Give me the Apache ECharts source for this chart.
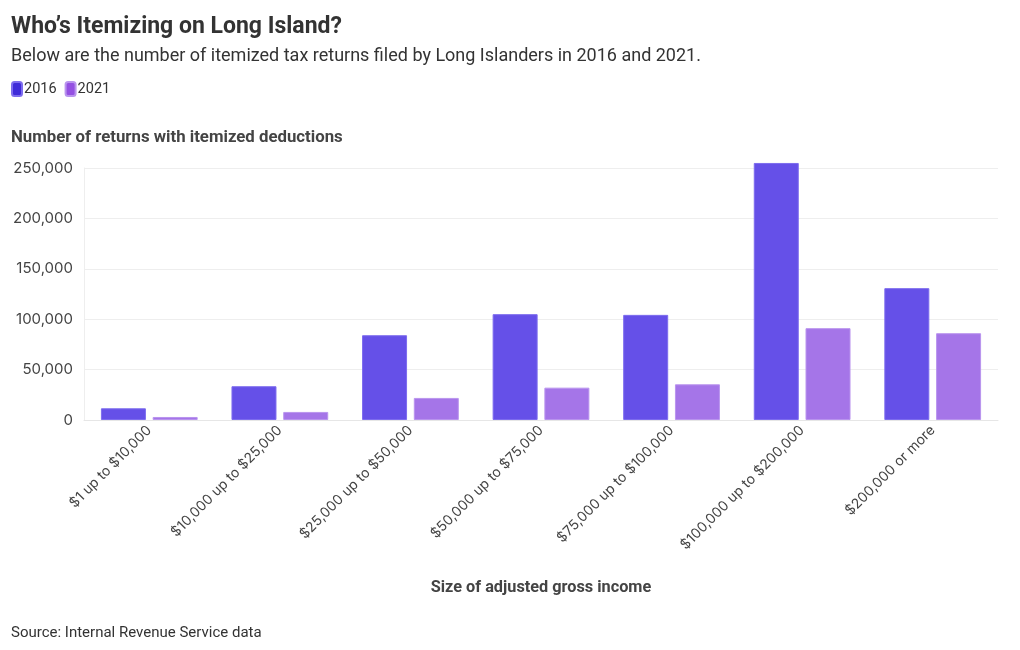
<!DOCTYPE html>
<html>
<head>
<meta charset="utf-8">
<script src="https://cdn.jsdelivr.net/npm/echarts@6/dist/echarts.min.js"></script>
<style>
html,body{margin:0;padding:0;background:#fff;}
#chart{width:1020px;height:650px;}
</style>
</head>
<body>
<div id="chart"></div>
<script>
const categories = ["$1 up to $10,000","$10,000 up to $25,000","$25,000 up to $50,000","$50,000 up to $75,000","$75,000 up to $100,000","$100,000 up to $200,000","$200,000 or more"];
const values2016 = [11600, 33500, 84100, 105000, 104300, 255000, 130800];
const values2021 = [3000, 8000, 21900, 32100, 35400, 91100, 86100];
const yTicks = [0, 50000, 100000, 150000, 200000, 250000];

const FONT = "Inter, 'Open Sans', sans-serif";
const TFONT = "Roboto, 'Noto Sans', sans-serif";

const chart = echarts.init(document.getElementById('chart'));
chart.setOption({
  animation: false,
  backgroundColor: '#ffffff',
  title: [
    {text: 'Who’s Itemizing on Long Island?', left: 6, top: 11,
     textStyle: {fontFamily: TFONT, fontSize: 23, fontWeight: 'bold', color: '#333'}},
    {text: 'Below are the number of itemized tax returns filed by Long Islanders in 2016 and 2021.', left: 6, top: 42,
     textStyle: {fontFamily: TFONT, fontSize: 18, fontWeight: 'normal', color: '#333'}},
    {text: 'Number of returns with itemized deductions', left: 6, top: 124,
     textStyle: {fontFamily: TFONT, fontSize: 16.8, fontWeight: 'bold', color: '#444'}},
    {text: 'Source: Internal Revenue Service data', left: 6, top: 621,
     textStyle: {fontFamily: TFONT, fontSize: 15, fontWeight: 'normal', color: '#333'}}
  ],
  legend: {
    left: 6, top: 76, icon: 'roundRect', itemWidth: 10, itemHeight: 14, itemGap: 8,
    textStyle: {fontFamily: TFONT, fontSize: 14.5, color: '#333', padding: [0,0,0,-3]},
    data: [
      {name: '2016', itemStyle: {color: '#3f2bd9'}},
      {name: '2021', itemStyle: {color: '#9450e2'}}
    ],
    selectedMode: false
  },
  grid: {left: 84, right: 22, top: 168, bottom: 230, containLabel: false},
  xAxis: {
    type: 'category', data: categories,
    axisLine: {lineStyle: {color: '#e6e6e6'}},
    axisTick: {alignWithLabel: true, length: 4, lineStyle: {color: '#e6e6e6'}},
    axisLabel: {rotate: 45, interval: 0, margin: 8, fontFamily: FONT, fontSize: 14, color: '#444'},
    name: 'Size of adjusted gross income', nameLocation: 'middle', nameGap: 160,
    nameTextStyle: {fontFamily: TFONT, fontSize: 16.3, fontWeight: 'bold', color: '#444'}
  },
  yAxis: {
    type: 'value', min: yTicks[0], max: yTicks[yTicks.length-1], interval: 50000,
    axisLine: {show: true, lineStyle: {color: '#eeeeee'}},
    axisTick: {show: false},
    splitLine: {lineStyle: {color: '#eeeeee'}},
    axisLabel: {margin: 11, fontFamily: FONT, fontSize: 15, color: '#444',
      formatter: v => v.toLocaleString('en-US')}
  },
  series: [
    {name: '2016', type: 'bar', data: values2016, barWidth: 45, barGap: '15%', clip: false,
     itemStyle: {color: '#6550e8', borderColor: '#7d6cee', borderWidth: 1}},
    {name: '2021', type: 'bar', data: values2021, barWidth: 45, clip: false,
     itemStyle: {color: '#a575e8', borderColor: '#b994ee', borderWidth: 1}}
  ]
});
</script>
</body>
</html>
